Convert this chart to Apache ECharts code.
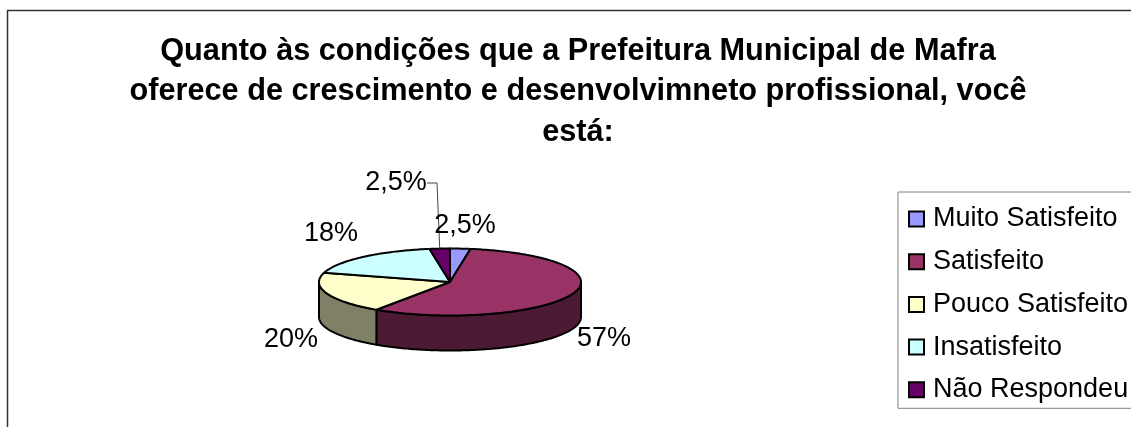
<!DOCTYPE html>
<html><head><meta charset="utf-8">
<style>html,body{margin:0;padding:0;background:#fff}#c{width:1131px;height:427px}</style>
<script src="https://cdn.jsdelivr.net/npm/echarts@6/dist/echarts.min.js"></script>
</head><body><div id="c"></div>
<script>
const categories = ['Muito Satisfeito','Satisfeito','Pouco Satisfeito','Insatisfeito','Não Respondeu'];
const values = [2.5, 57, 20, 18, 2.5];
const valueLabels = ['2,5%','57%','20%','18%','2,5%'];
const titleText = 'Quanto às condições que a Prefeitura Municipal de Mafra\noferece de crescimento e desenvolvimneto profissional, você\nestá:';

const topColors = ['#9999FF','#993366','#FFFFCC','#CCFFFF','#660066'];
const sideColors = ['#4D4D80','#4D1A33','#808066','#668080','#330033'];
const labelCenters = [[465,226],[604,339],[291,340],[331,234],[396,183]];
const pie = {cx:450, cy:282, rx:131, ry:33.5, depth:35};
const FONT = '"Liberation Sans", Arial, sans-serif';

const total = values.reduce((a,b)=>a+b,0);
const pt = (deg,dy=0)=>{const t=deg*Math.PI/180;return [pie.cx+pie.rx*Math.sin(t), pie.cy-pie.ry*Math.cos(t)+dy];};
const arc = (a,b,dy=0)=>{const n=Math.max(2,Math.ceil(Math.abs(b-a)));const r=[];for(let i=0;i<=n;i++)r.push(pt(a+(b-a)*i/n,dy));return r;};

function renderSlice(index){
  return function(params, api){
    const v = api.value(0), before = api.value(1);
    const a = before/total*360, b = (before+v)/total*360;
    const children = [];
    const sa = Math.max(a,90), sb = Math.min(b,270);
    if (sb > sa) {
      const upper = arc(sa,sb), lower = arc(sb,sa,pie.depth);
      children.push({type:'polygon', z2:1, shape:{points:upper.concat(lower)},
        style:{fill:sideColors[index], stroke:'#000', lineWidth:2, lineJoin:'round'}});
    }
    children.push({type:'polygon', z2:2, shape:{points:[[pie.cx,pie.cy]].concat(arc(a,b))},
      style:{fill:topColors[index], stroke:'#000', lineWidth:2, lineJoin:'round'}});
    const c = labelCenters[index];
    children.push({type:'text', z2:5, x:c[0], y:c[1],
      style:{text:valueLabels[index], fill:'#000', font:'27px '+FONT, align:'center', verticalAlign:'middle'}});
    if (index === 4) {
      const m = pt((a+b)/2);
      children.push({type:'polyline', z2:4, shape:{points:[[c[0]+31,c[1]],[c[0]+41,c[1]],[m[0],m[1]]]},
        style:{fill:'none', stroke:'#444', lineWidth:1}});
    }
    return {type:'group', children};
  };
}

let running = 0;
const series = categories.map((name,i)=>{
  const d = [values[i], running]; running += values[i];
  return {type:'custom', name, coordinateSystem:'none', renderItem:renderSlice(i),
    data:[d], silent:true, animation:false,
    itemStyle:{color:topColors[i], borderColor:'#000', borderWidth:2}};
});

const chart = echarts.init(document.getElementById('c'), null, {renderer:'canvas'});
chart.setOption({
  animation:false,
  backgroundColor:'#fff',
  title:{text:titleText, left:573, top:26, textAlign:'center',
    textStyle:{fontFamily:FONT, fontWeight:'bold', fontSize:30.7, lineHeight:40.5, color:'#000'}},
  legend:{orient:'vertical', left:898, top:192, padding:[13.5,40,5,10], itemGap:15.7,
    itemWidth:15, itemHeight:15, icon:'rect', selectedMode:false, data:categories,
    backgroundColor:'#fff', borderColor:'#808080', borderWidth:1,
    textStyle:{fontFamily:FONT, fontSize:27, color:'#000', padding:[0,0,0,4]}},
  graphic:[{type:'polyline', silent:true, shape:{points:[[7.5,427],[7.5,10.5],[1131,10.5]]},
    style:{fill:'none', stroke:'#333', lineWidth:1.5}}],
  series
});
</script></body></html>
